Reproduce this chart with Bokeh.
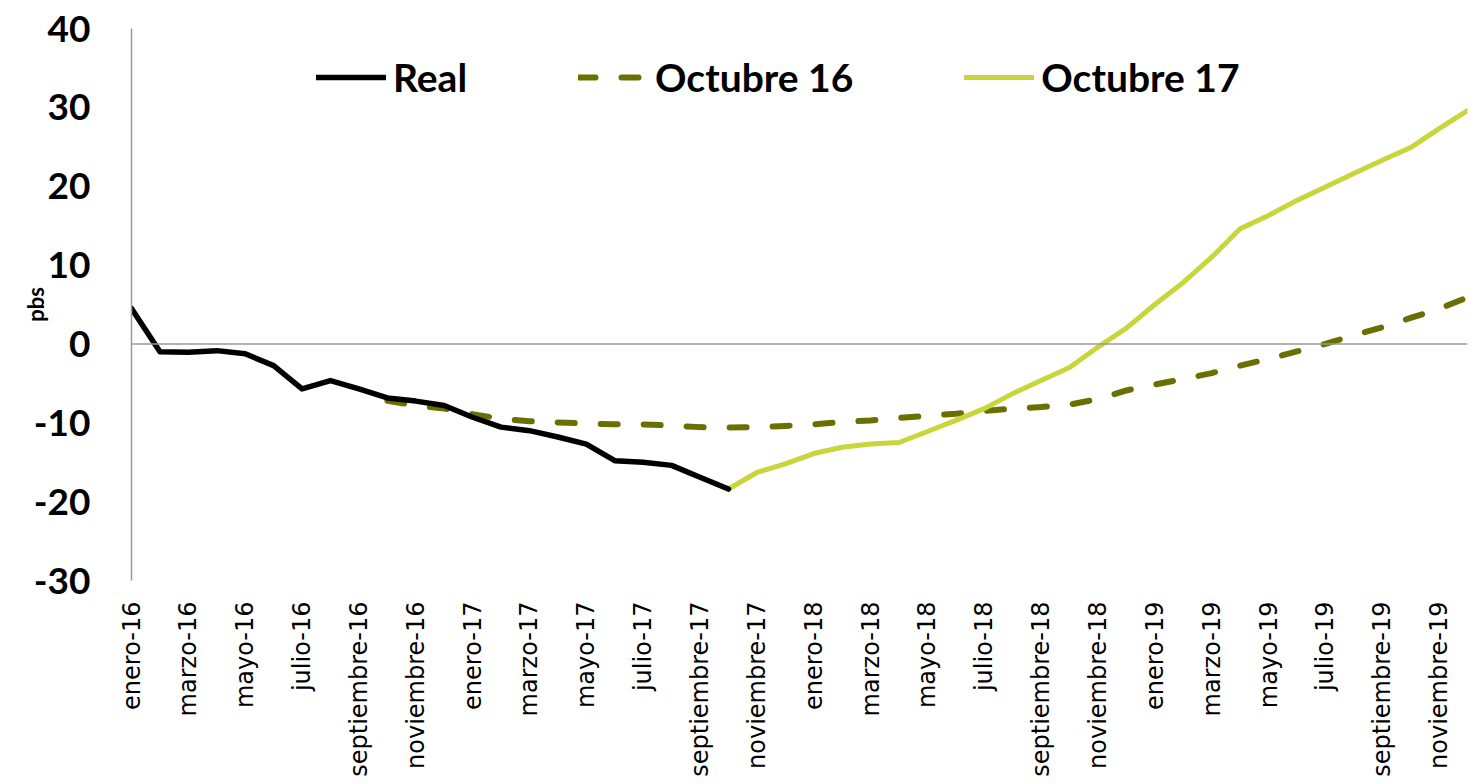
import math
from bokeh.plotting import figure
from bokeh.models import (Span, Legend, LegendItem, FixedTicker, Range1d)
from bokeh.embed import file_html
from bokeh.resources import INLINE

# ---- data -----------------------------------------------------------------
meses = ["enero", "febrero", "marzo", "abril", "mayo", "junio", "julio",
         "agosto", "septiembre", "octubre", "noviembre", "diciembre"]
anios = ["16", "17", "18", "19"]
etiquetas = [f"{m}-{a}" for a in anios for m in meses]   # enero-16 .. diciembre-19

real = [4.5, -1.0, -1.05, -0.85, -1.25, -2.75, -5.7, -4.65, -5.7, -6.85,
        -7.25, -7.8, -9.3, -10.55, -11.0, -11.8, -12.7, -14.8, -15.0, -15.4,
        -16.9, -18.4]                      # enero-16 .. octubre-17
real_inicio = 0

oct16 = [-7.2, -7.8, -8.2, -8.9, -9.5, -9.8, -9.95, -10.1, -10.2, -10.2,
         -10.35, -10.55, -10.6, -10.55, -10.4, -10.2, -9.9, -9.7, -9.4, -9.1,
         -8.85, -8.5, -8.2, -8.0, -7.7, -7.0, -5.9, -5.15, -4.45, -3.7,
         -2.75, -1.9, -0.95, 0.0, 1.1, 2.1, 3.3, 4.45, 5.9]   # octubre-16 .. diciembre-19
oct16_inicio = 9

oct17 = [-18.4, -16.3, -15.2, -13.9, -13.1, -12.7, -12.5, -11.1, -9.7, -8.2,
         -6.3, -4.65, -3.0, -0.4, 2.0, 5.0, 7.8, 11.0, 14.6, 16.3, 18.2, 19.9,
         21.6, 23.3, 24.9, 27.3, 29.6]     # octubre-17 .. diciembre-19
oct17_inicio = 21

y_ticks = [-30, -20, -10, 0, 10, 20, 30, 40]
y_tick_labels = ["-30", "-20", "-10", "0", "10", "20", "30", "40"]

# ---- figure ---------------------------------------------------------------
n = len(etiquetas)
p = figure(width=1479, height=784, output_backend="svg", toolbar_location=None,
           x_range=Range1d(0, n - 1), y_range=Range1d(-30, 40),
           min_border_left=131, min_border_right=12, min_border_top=28,
           min_border_bottom=204)
p.outline_line_color = None
p.xgrid.visible = False
p.ygrid.visible = False
p.background_fill_color = "white"
p.border_fill_color = "white"

# zero line
p.add_layout(Span(location=0, dimension="width", line_color="#9a9a9a",
                  line_width=1.5))

x_real = [real_inicio + i for i in range(len(real))]
x_o16 = [oct16_inicio + i for i in range(len(oct16))]
x_o17 = [oct17_inicio + i for i in range(len(oct17))]

r16 = p.line(x_o16, oct16, line_color="#6a7000", line_width=6,
             line_dash="17 26", line_cap="round", line_join="round")
r17 = p.line(x_o17, oct17, line_color="#c9d63b", line_width=5,
             line_cap="round", line_join="round")
rr = p.line(x_real, real, line_color="#000000", line_width=5.5,
            line_cap="round", line_join="round")

# x axis
xa = p.xaxis[0]
xa.ticker = FixedTicker(ticks=list(range(0, n, 2)))
xa.major_label_overrides = {i: etiquetas[i] for i in range(n)}
xa.major_label_orientation = math.pi / 2
xa.major_label_text_font = "DejaVu Sans"
xa.major_label_text_font_size = "24px"
xa.major_label_text_color = "#000000"
xa.major_label_standoff = 15
xa.axis_line_color = None
xa.major_tick_line_color = None
xa.minor_tick_line_color = None

# y axis
ya = p.yaxis[0]
ya.ticker = FixedTicker(ticks=y_ticks)
ya.major_label_overrides = {t: s for t, s in zip(y_ticks, y_tick_labels)}
ya.major_label_text_font = "Lato"
ya.major_label_text_font_style = "bold"
ya.major_label_text_font_size = "37px"
ya.major_label_text_color = "#000000"
ya.major_label_standoff = 35
ya.axis_line_color = "#9a9a9a"
ya.axis_line_width = 1.5
ya.major_tick_line_color = None
ya.minor_tick_line_color = None
ya.axis_label = "pbs"
ya.axis_label_text_font = "Lato"
ya.axis_label_text_font_style = "bold"
ya.axis_label_text_font_size = "22px"
ya.axis_label_text_color = "#000000"
ya.axis_label_standoff = -18

legend = Legend(items=[LegendItem(label="Real", renderers=[rr]),
                       LegendItem(label="Octubre 16", renderers=[r16]),
                       LegendItem(label="Octubre 17", renderers=[r17])],
                orientation="horizontal", location=(185, 480),
                glyph_width=70, glyph_height=40, label_height=40,
                label_standoff=7, spacing=111, padding=0, margin=0,
                border_line_color=None, background_fill_alpha=0,
                label_text_font="Lato", label_text_font_style="bold",
                label_text_font_size="39px", label_text_color="#000000")
p.add_layout(legend)

open("out.html", "w").write(file_html(p, INLINE))
